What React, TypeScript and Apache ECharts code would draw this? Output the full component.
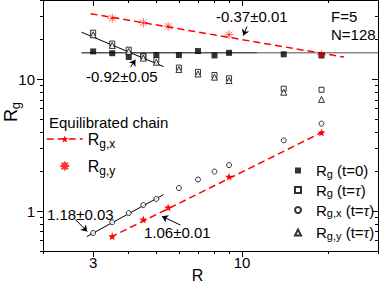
import React, { useEffect, useRef } from 'react';
import * as echarts from 'echarts';

// ---------- data ----------
const R_SIM = [3, 3.5, 4, 4.5, 5, 6, 7, 8, 9, 14, 19];
const RG_T0 = [16.3, 15.8, 14.8, 15.0, 15.3, 15.3, 16.4, 15.2, 15.9, 15.5, 15.2];
const RG_TAU = [22.6, 18.7, 16.8, 15.0, 14.0, 12.3, 11.4, 10.8, 10.2, 8.5, 8.35];
const RGX_TAU = [0.685, 0.826, 0.97, 1.116, 1.24, 1.5, 1.74, 2.0, 2.24, 3.45, 4.62];
const RGY_TAU = [21.8, 18.1, 16.3, 14.5, 13.5, 11.9, 11.0, 10.4, 9.8, 8.0, 7.05];
const R_EQ = [3.5, 4.5, 5.5, 9, 19];
const RGX_EQ = [0.647, 0.865, 1.07, 1.83, 3.95];
const RGY_EQ = [29.1, 26.9, 25.3, 21.8, 15.4];

// fit lines (end points, [R, Rg])
const FIT_RGX_EQ = [[3.45, 0.635], [19.3, 4.02]];
const FIT_RGY_EQ = [[2.94, 31.5], [22.8, 14.76]];
const FIT_RGX = [[2.85, 0.643], [5.3, 1.338]];
const FIT_RGY = [[2.73, 22.8], [5.3, 12.5]];
const FIT_T0 = [[2.73, 15.9], [11.3, 15.9]];
const FIT_T0_GRAY = [[11.3, 15.9], [30, 15.9]];

// annotation arrows ([from], [to]) in data space
const ARROWS = [
  [[4.06, 12.4], [4.22, 14.1]],
  [[10.4, 25.2], [10.1, 21.5]],
  [[2.6, 0.865], [2.86, 0.702]],
  [[6.07, 0.787], [5.23, 0.917]],
];

// axes
const X_MIN = 2, X_MAX = 30, Y_MIN = 0.5, Y_MAX = 40;
const X_MAJOR = [3, 10];
const X_MINOR = [2, 4, 5, 6, 7, 8, 9, 20, 30];
const Y_MAJOR = [1, 10];
const Y_MINOR = [0.5, 0.6, 0.7, 0.8, 0.9, 2, 3, 4, 5, 6, 7, 8, 9, 20, 30, 40];

const N_T0 = 'Rg (t=0)';
const N_TAU = 'Rg (t=tau)';
const N_GX = 'Rgx (t=tau)';
const N_GY = 'Rgy (t=tau)';
const N_EQX = 'Rgx eq';
const N_EQY = 'Rgy eq';

const FONT = 'Liberation Sans, Arial, sans-serif';
const RED = '#ff0000';

const STAR = 'path://M0,-10 L2.35,-3.24 L9.51,-3.09 L3.8,1.24 L5.88,8.09 L0,4 L-5.88,8.09 L-3.8,1.24 L-9.51,-3.09 L-2.35,-3.24 Z';
const ASTER = 'path://M0,-10 L0,10 M-10,0 L10,0 M-7.07,-7.07 L7.07,7.07 M-7.07,7.07 L7.07,-7.07';

const pairs = (xs: number[], ys: number[]) => xs.map((x, i) => [x, ys[i]]);

const LEGEND_TEXT: Record<string, string> = {
  [N_T0]: '{r|R}{s|g}{t| (t=0)}',
  [N_TAU]: '{r|R}{s|g}{t| (t=}{tau|τ}{t|)}',
  [N_GX]: '{r|R}{s|g,x}{t| (t=}{tau|τ}{t|)}',
  [N_GY]: '{r|R}{s|g,y}{t| (t=}{tau|τ}{t|)}',
  [N_EQX]: '{r|R}{s|g,x}',
  [N_EQY]: '{r|R}{s|g,y}',
};

const xAxis = (position: string, vals: number[], len: number, inside: boolean, labels: boolean) => ({
  type: 'log', logBase: 10, min: X_MIN, max: X_MAX, position, gridIndex: 0,
  axisLine: { show: true, onZero: false, lineStyle: { color: '#000', width: 1 } },
  axisTick: { show: true, inside, length: len, customValues: vals, lineStyle: { color: '#000', width: 1 } },
  axisLabel: labels
    ? { show: true, customValues: X_MAJOR, margin: 4, fontSize: 15, color: '#000', fontFamily: FONT }
    : { show: false },
  splitLine: { show: false }, minorTick: { show: false }, minorSplitLine: { show: false },
});

const yAxis = (position: string, vals: number[], len: number, inside: boolean, labels: boolean) => ({
  type: 'log', logBase: 10, min: Y_MIN, max: Y_MAX, position, gridIndex: 0,
  axisLine: { show: true, onZero: false, lineStyle: { color: '#000', width: 1 } },
  axisTick: { show: true, inside, length: len, customValues: vals, lineStyle: { color: '#000', width: 1 } },
  axisLabel: labels
    ? { show: true, customValues: Y_MAJOR, margin: 8, fontSize: 15, color: '#000', fontFamily: FONT }
    : { show: false },
  splitLine: { show: false }, minorTick: { show: false }, minorSplitLine: { show: false },
});

const fitLine = (d: number[][], color: string, width: number, dashed: boolean) => ({
  type: 'line', data: d, symbol: 'none', silent: true, z: 2,
  lineStyle: { color, width, type: dashed ? [7, 4] : 'solid' },
});

const smallRich = {
  r: { fontSize: 15, fontFamily: FONT, color: '#000' },
  s: { fontSize: 11, fontFamily: FONT, color: '#000', padding: [6, 0, 0, 0] },
  t: { fontSize: 15, fontFamily: FONT, color: '#000' },
  tau: { fontSize: 16, fontFamily: 'Liberation Serif, serif', fontStyle: 'italic', color: '#000' },
};

const eqRich = {
  r: { fontSize: 16, fontFamily: FONT, color: '#000' },
  s: { fontSize: 12, fontFamily: FONT, color: '#000', padding: [10, 0, 0, 0] },
};

const annoText = (text: string, x: number, y: number, size = 15) => ({
  type: 'text', x, y, silent: true,
  style: { text, fontSize: size, fontFamily: FONT, fill: '#000', align: 'left', verticalAlign: 'middle' },
});

const smallLegend = (top: number, gap: number, data: string[]) => ({
  orient: 'vertical', left: 294, top, padding: 0, itemGap: gap,
  itemWidth: 6, itemHeight: 6, selectedMode: false,
  data,
  formatter: (n: string) => LEGEND_TEXT[n],
  textStyle: { rich: smallRich, padding: [0, 0, 0, 10] },
});

export default function App() {
  const ref = useRef<HTMLDivElement>(null);
  useEffect(() => {
    if (!ref.current) return;
    const chart = echarts.init(ref.current, undefined, { renderer: 'svg' });
    const option: any = {
      animation: false,
      backgroundColor: '#fff',
      textStyle: { fontFamily: FONT },
      grid: { left: 43, right: 4, top: 0, bottom: 32, outerBoundsMode: 'none', containLabel: false },
      xAxis: [
        xAxis('bottom', X_MAJOR, 6, false, true),
        xAxis('bottom', X_MINOR, 3, false, false),
        xAxis('top', X_MAJOR, 6, true, false),
        xAxis('top', X_MINOR, 3, true, false),
      ],
      yAxis: [
        yAxis('left', Y_MAJOR, 6, false, true),
        yAxis('left', Y_MINOR, 3, false, false),
        yAxis('right', Y_MAJOR, 6, true, false),
        yAxis('right', Y_MINOR, 3, true, false),
      ],
      legend: [
        {
          orient: 'vertical', left: 46, top: 131, padding: 0, itemGap: 8,
          itemWidth: 36, itemHeight: 9, selectedMode: false,
          data: [
            { name: N_EQX, lineStyle: { opacity: 1, width: 1.5, color: RED } },
            { name: N_EQY },
          ],
          formatter: (n: string) => LEGEND_TEXT[n],
          textStyle: { rich: eqRich },
        },
        smallLegend(163, 3, [N_T0, N_TAU]),
        smallLegend(202, 6, [N_GX, N_GY]),
      ],
      series: [
        fitLine(FIT_T0_GRAY, '#8a8a8a', 1.5, false),
        fitLine(FIT_T0, '#000', 1, false),
        fitLine(FIT_RGY, '#000', 1, false),
        fitLine(FIT_RGX, '#000', 1, false),
        {
          name: N_T0, type: 'scatter', symbol: 'rect', symbolSize: 6, z: 3,
          itemStyle: { color: '#000', borderColor: '#000', borderWidth: 0 },
          data: pairs(R_SIM, RG_T0),
        },
        {
          name: N_TAU, type: 'scatter', symbol: 'rect', symbolSize: 5, z: 3,
          itemStyle: { color: '#fff', borderColor: '#000', borderWidth: 1 },
          data: pairs(R_SIM, RG_TAU),
        },
        {
          name: N_GX, type: 'scatter', symbol: 'circle', symbolSize: 5, z: 3,
          itemStyle: { color: '#fff', borderColor: '#000', borderWidth: 1 },
          data: pairs(R_SIM, RGX_TAU),
        },
        {
          name: N_GY, type: 'scatter', symbol: 'triangle', symbolSize: 6, z: 3,
          itemStyle: { color: '#fff', borderColor: '#000', borderWidth: 1 },
          data: pairs(R_SIM, RGY_TAU),
        },
        fitLine(FIT_RGX_EQ, RED, 1.5, true),
        fitLine(FIT_RGY_EQ, RED, 1.5, true),
        {
          name: N_EQX, type: 'line', symbol: STAR, symbolSize: 8, z: 4,
          itemStyle: { color: RED },
          lineStyle: { color: RED, width: 1.5, type: [7, 4], opacity: 0 },
          data: pairs(R_EQ, RGX_EQ),
        },
        {
          name: N_EQY, type: 'scatter', symbol: ASTER, symbolSize: 9, z: 4,
          itemStyle: { color: 'rgba(0,0,0,0)', borderColor: RED, borderWidth: 0.8 },
          data: pairs(R_EQ, RGY_EQ),
        },
        {
          type: 'lines', coordinateSystem: 'cartesian2d', z: 5, silent: true,
          symbol: ['none', 'arrow'], symbolSize: 6,
          lineStyle: { color: '#000', width: 1, opacity: 1 },
          data: ARROWS.map((c) => ({ coords: c })),
        },
      ],
      graphic: [
        annoText('-0.92±0.05', 86, 76),
        annoText('-0.37±0.01', 216, 16),
        annoText('F=5', 331, 16),
        annoText('N=128', 331, 34),
        annoText('1.18±0.03', 47, 214.5),
        annoText('1.06±0.01', 144, 232),
        annoText('Equilibrated chain', 49, 122.5),
        {
          type: 'text', x: 197.5, y: 283, silent: true,
          style: { text: 'R', fontSize: 16, fontFamily: FONT, fill: '#000', align: 'center', verticalAlign: 'bottom' },
        },
        {
          type: 'text', x: 11, y: 112, rotation: Math.PI / 2, silent: true,
          style: {
            text: '{r|R}{s|g}', align: 'center', verticalAlign: 'middle', fill: '#000',
            rich: {
              r: { fontSize: 18, fontFamily: FONT, fill: '#000' },
              s: { fontSize: 13, fontFamily: FONT, fill: '#000', padding: [9, 0, 0, 0] },
            },
          },
        },
      ],
    };
    chart.setOption(option);
    return () => chart.dispose();
  }, []);
  return <div ref={ref} style={{ position: 'fixed', left: 0, top: 0, width: 382, height: 283 }} />;
}
